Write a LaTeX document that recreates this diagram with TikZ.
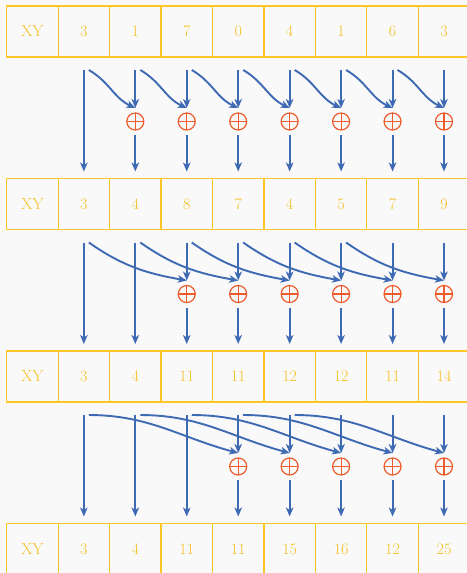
\documentclass[tikz,border=0pt]{standalone}
\usetikzlibrary{arrows.meta,calc}
\definecolor{bgc}{HTML}{F9F9F9}
\definecolor{cellc}{HTML}{FFC726}
\definecolor{txtc}{HTML}{F5BF22}
\definecolor{arrc}{HTML}{3E6AB3}
\definecolor{opc}{HTML}{EF5B2B}
\begin{document}
\begin{tikzpicture}[x=1pt,y=-1pt,
  cellbox/.style={draw=cellc,line width=1.2pt,minimum width=51.45pt,minimum height=51pt,
    inner sep=0pt,outer sep=0pt,text=txtc,font=\fontsize{16}{18}\selectfont},
  opnode/.style={circle,draw=opc,line width=1.2pt,minimum size=17pt,inner sep=0pt,outer sep=5pt,
    path picture={\draw[opc,line width=1.2pt] (path picture bounding box.north) -- (path picture bounding box.south)
      (path picture bounding box.west) -- (path picture bounding box.east);}},
  flow/.style={draw=arrc,line width=1.9pt,-{Stealth[length=9pt,width=7.5pt,inset=2.5pt]}}]
\fill[bgc] (0,0) rectangle (466,573);
\useasboundingbox (0,0) rectangle (466,573);
% rows
\foreach \r/\top/\vals in {0/6/{XY,3,1,7,0,4,1,6,3},1/178.5/{XY,3,4,8,7,4,5,7,9},
  2/351/{XY,3,4,11,11,12,12,11,14},3/523.5/{XY,3,4,11,11,15,16,12,25}}{
  \foreach \v [count=\i from 0] in \vals {
    \node[cellbox] (r\r c\i) at (32.4+51.45*\i,\top+25.5) {\v};
  }
}
% stages
\foreach \s/\top/\off in {0/6/1,1/178.5/2,2/351/3}{
  \pgfmathsetmacro{\b}{\top+51}
  \pgfmathtruncatemacro{\last}{8-\off}
  \foreach \i in {1,...,8}{
    \coordinate (s\s-\i) at (32.4+51.45*\i,\b+13);
    \coordinate (e\s-\i) at (32.4+51.45*\i,\b+114.5);
  }
  \foreach \i in {1,...,\off}{
    \draw[flow] (s\s-\i) -- (e\s-\i);
  }
  \pgfmathtruncatemacro{\first}{\off+1}
  \foreach \i in {\first,...,8}{
    \node[opnode] (p\s-\i) at (32.4+51.45*\i,\b+64.5) {};
    \draw[flow] (s\s-\i) -- (p\s-\i.north);
    \draw[flow] (p\s-\i.south) -- (e\s-\i);
  }
  \foreach \i in {1,...,\last}{
    \coordinate (c\s-\i) at (37.4+51.45*\i,\b+13);
  }
}
% curved connectors
\foreach \i [evaluate=\i as \j using int(\i+1)] in {1,...,7}{
  \draw[flow] (c0-\i) to[out=-30,in=155] (p0-\j.north);
}
\foreach \i [evaluate=\i as \j using int(\i+2)] in {1,...,6}{
  \draw[flow] (c1-\i) to[out=-35,in=170] (p1-\j.north);
}
\foreach \i [evaluate=\i as \j using int(\i+3)] in {1,...,5}{
  \draw[flow] (c2-\i) to[out=0,in=165] (p2-\j.north);
}
\end{tikzpicture}
\end{document}
